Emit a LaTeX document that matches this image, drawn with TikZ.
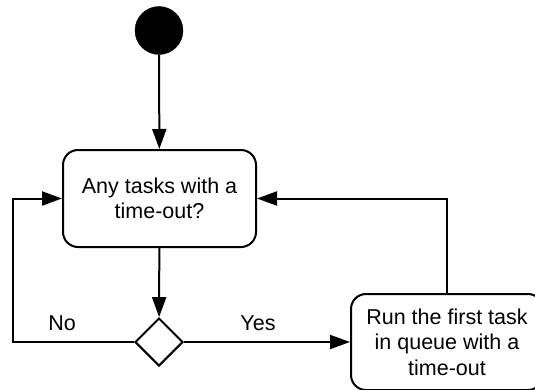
\documentclass[tikz,border=0pt]{standalone}
\usepackage{fontspec}
\setmainfont{Liberation Sans}
\usepackage{tikz}
\usetikzlibrary{arrows.meta,positioning,shapes.geometric,calc}
\tikzset{initial/.style={circle,fill=black,draw=black,minimum size=48pt,inner sep=0pt},activity/.style={draw,line width=2pt,rounded corners=15pt,align=center,font=\fontsize{21.5}{25.5}\selectfont,inner sep=0pt},choice/.style={diamond,draw,line width=2pt,minimum width=48pt,minimum height=48pt,inner sep=0pt},arr/.style={-{Triangle[length=20pt,width=14pt]},line width=2pt},lab/.style={font=\fontsize{21.5}{25.5}\selectfont}}
\begin{document}
\begin{tikzpicture}[x=1pt,y=1pt]
\useasboundingbox (0,0) rectangle (535,389);
\node[initial] (start) at (159,358.5) {};
\node[activity,minimum width=193pt,minimum height=97pt] (check) at (159.5,190.5) {Any tasks with a\\time-out?};
\node[choice] (decide) at (159,47) {};
\node[activity,minimum width=192pt,minimum height=96pt] (run) at (447,47) {Run the first task\\in queue with a\\time-out};
\coordinate (noturn) at (13,47);
\node[lab] (no) at (62,66) {No};
\node[lab] (yes) at (258,66) {Yes};
\draw[arr] (start)--(check);
\draw[arr] (check)--(decide);
\draw[arr] (decide)--(run);
\draw[arr] (decide.west)--(noturn)|-(check.west);
\draw[arr] (run.north)|-(check.east);
\end{tikzpicture}
\end{document}
